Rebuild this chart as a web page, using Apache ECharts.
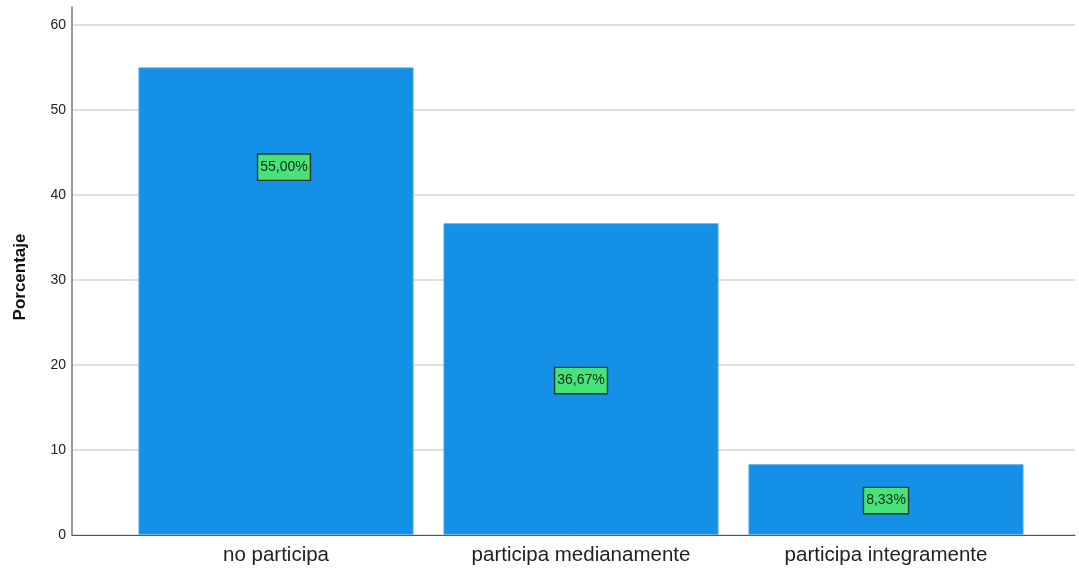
<!DOCTYPE html>
<html><head><meta charset="utf-8">
<script src="https://cdn.jsdelivr.net/npm/echarts@6/dist/echarts.min.js"></script>
<style>html,body{margin:0;padding:0;background:#fff}#c{width:1079px;height:572px}</style>
</head><body><div id="c"></div>
<script>
const categories = ['no participa', 'participa medianamente', 'participa integramente'];
const values = [55.00, 36.67, 8.33];
const yTicks = [0, 10, 20, 30, 40, 50, 60];

const labelOffsets = [[8, -134], [0, 1.5], [0, 1]];
const font = 'Liberation Sans, Arial, sans-serif';

const chart = echarts.init(document.getElementById('c'));
chart.setOption({
  animation: false,
  textStyle: { fontFamily: font },
  grid: [
    { left: 72, right: 4, top: 7, bottom: 37, outerBoundsMode: 'none', containLabel: false },
    { left: 123.5, right: 40.5, top: 7, bottom: 37, outerBoundsMode: 'none', containLabel: false }
  ],
  xAxis: [
    { type: 'value', gridIndex: 0, min: 0, max: 1, show: true,
      axisLine: { show: true, lineStyle: { color: '#555', width: 1 } },
      axisTick: { show: false }, axisLabel: { show: false }, splitLine: { show: false } },
    { type: 'category', gridIndex: 1, data: categories,
      axisLine: { show: false }, axisTick: { show: false },
      axisLabel: { color: '#222', fontSize: 20.5, margin: 10, fontFamily: font } }
  ],
  yAxis: [
    { type: 'value', gridIndex: 0, min: 0, max: 62.1, interval: 10,
      name: 'Porcentaje', nameLocation: 'middle', nameGap: 43, nameTextStyle: { fontSize: 17, fontWeight: 'bold', color: '#111', fontFamily: font, padding: [0, 12, 0, 0] },
      axisLine: { show: true, lineStyle: { color: '#777', width: 1.5 } },
      axisTick: { show: false },
      axisLabel: { color: '#222', fontSize: 14, margin: 6, showMaxLabel: false,
        formatter: v => yTicks.includes(v) ? String(v) : '' },
      splitLine: { show: true, showMaxLine: false, lineStyle: { color: '#d4d4d4', width: 1.5 } } },
    { type: 'value', gridIndex: 1, min: 0, max: 62.1, show: false, splitLine: { show: false } }
  ],
  series: [{
    type: 'bar', xAxisIndex: 1, yAxisIndex: 1,
    barCategoryGap: '9.8%',
    itemStyle: { color: '#1490e6', borderColor: '#6bb8f0', borderWidth: 0.8 },
    data: values.map((v, i) => ({
      value: v,
      label: {
        show: true, position: 'inside', offset: labelOffsets[i],
        formatter: () => v.toFixed(2).replace('.', ',') + '%',
        color: '#0e2a18', fontSize: 14, fontFamily: font,
        backgroundColor: '#47e27a', borderColor: '#1d3b28', borderWidth: 1.4,
        padding: [6, 2, 5, 2]
      }
    }))
  }]
});
</script></body></html>
